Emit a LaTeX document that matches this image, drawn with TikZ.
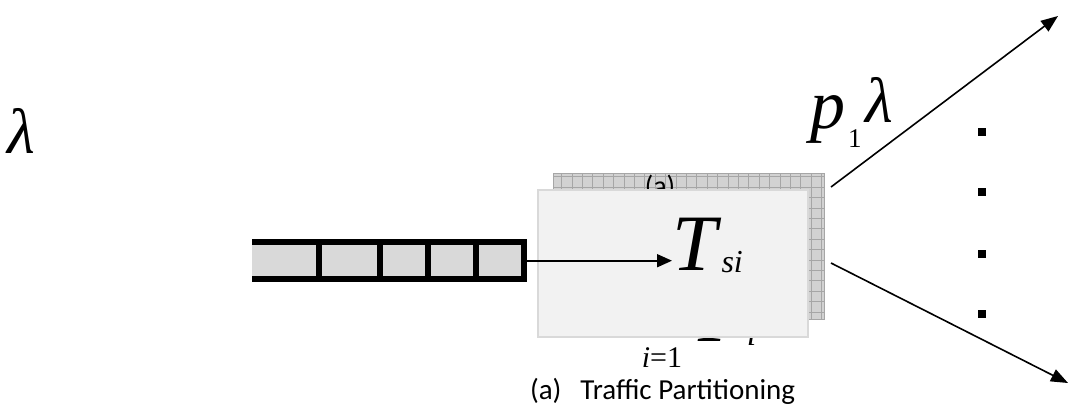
\documentclass[tikz,border=0pt]{standalone}
\usepackage{fontspec}
\setmainfont{Liberation Serif}
\newfontfamily\capfont{Carlito}
\usetikzlibrary{arrows.meta}
\definecolor{cellgray}{HTML}{D9D9D9}
\definecolor{backfill}{HTML}{D2D2D2}
\definecolor{gridgray}{HTML}{A6A6A6}
\definecolor{frontfill}{HTML}{F2F2F2}
\definecolor{frontline}{HTML}{D9D9D9}
\tikzset{
  txt/.style={inner sep=0pt, outer sep=0pt},
  backbox/.style={fill=backfill, draw=none, inner sep=0pt, anchor=north west},
  frontbox/.style={fill=frontfill, draw=frontline, line width=1.5pt, inner sep=0pt, anchor=north west},
  queuebox/.style={fill=black, draw=none, inner sep=0pt, anchor=north west},
  cell/.style={fill=cellgray},
  flow/.style={line width=1.7pt, -{Triangle[length=15pt, width=13pt]}},
  outflow/.style={line width=1.6pt, -{Triangle[length=17pt, width=13pt]}},
  dotmark/.style={fill=black, inner sep=0pt, minimum size=8pt, rectangle},
}
\begin{document}
\begin{tikzpicture}[x=1pt, y=-1pt]
\useasboundingbox (0,0) rectangle (1070,407);

% arrival rate
\node[txt, anchor=base west] (lam) at (7,153) {\itshape\fontsize{64}{64}\selectfont λ};

% queue
\node[queuebox, minimum width=275pt, minimum height=43pt] (queue) at (252,239) {};
\fill[cell] (252,245) rectangle (316,276);
\fill[cell] (322,245) rectangle (377,276);
\fill[cell] (383,245) rectangle (425,276);
\fill[cell] (431,245) rectangle (473,276);
\fill[cell] (479,245) rectangle (521,276);

% back (shadow) box with grid
\node[backbox, minimum width=271pt, minimum height=146pt] (back) at (553,173) {};
\draw[gridgray, line width=0.8pt, step=10.4pt] (553,173) grid (824,319);
\draw[gridgray, line width=0.8pt] (back.north west) rectangle (back.south east);

% texts partly hidden behind the front box
\node[txt, anchor=base] (lbl) at (660,195) {\capfont\fontsize{28}{28}\selectfont (a)};
\node[txt, anchor=base] (sigma) at (662,367) {\shortstack{\fontsize{80}{80}\selectfont Σ\\[7pt]\fontsize{30}{30}\selectfont\textit{i}=1}};
\node[txt, anchor=base west] (psum) at (698,341) {\fontsize{80}{80}\selectfont\textit{P}\raisebox{-4pt}{\fontsize{34}{34}\selectfont\textit{i}}};

% front box (server)
\node[frontbox, minimum width=270pt, minimum height=147pt] (server) at (537,189) {};

% service time
\node[txt, anchor=base west] (T) at (672,270) {\itshape\fontsize{80}{80}\selectfont T\hspace{5pt}\raisebox{-2pt}{\fontsize{32}{32}\selectfont si}};

\draw[flow] (queue.east) -- (queue.east -| T.west);

% outgoing flows
\coordinate (o1) at (831,187);
\coordinate (e1) at (1058,16);
\coordinate (o2) at (831,263);
\coordinate (e2) at (1068,383);
\draw[outflow] (o1) -- (e1);
\draw[outflow] (o2) -- (e2);

\node[txt, anchor=base west] (p1) at (810,128) {\itshape\fontsize{70}{70}\selectfont p\hspace{3pt}\raisebox{-19pt}{\upshape\fontsize{27}{27}\selectfont 1}\hspace{4pt}\raisebox{6pt}{\fontsize{64}{64}\selectfont λ}};

% vertical dots
\node[dotmark] (d1) at (982,132) {};
\node[dotmark] (d2) at (982,192) {};
\node[dotmark] (d3) at (982,254) {};
\node[dotmark] (d4) at (982,314) {};

% caption
\node[txt, anchor=base west] (cap) at (530,399) {\capfont\fontsize{29}{29}\selectfont (a)\hspace{19pt}Traffic Partitioning};
\end{tikzpicture}
\end{document}
